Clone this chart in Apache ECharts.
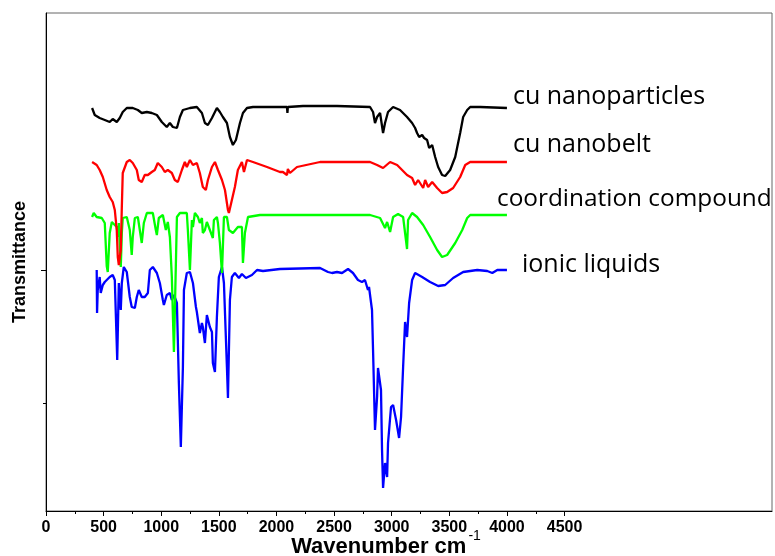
<!DOCTYPE html>
<html>
<head>
<meta charset="utf-8">
<script src="https://cdn.jsdelivr.net/npm/echarts@6/dist/echarts.min.js"></script>
<style>
html,body{margin:0;padding:0;background:#fff;}
#chart{width:775px;height:556px;}
</style>
</head>
<body>
<div id="chart"></div>
<script>
// Series names (shown as end labels)
var seriesNames = ['cu nanoparticles', 'cu nanobelt', 'coordination compound', 'ionic liquids'];

// Tick values
var majorTicks = [0, 500, 1000, 1500, 2000, 2500, 3000, 3500, 4000, 4500];
var minorTicks = [250, 750, 1250, 1750, 2250, 2750, 3250, 3750, 4250];
var yMajorTicks = [241];
var yMinorTicks = [108];

// Spectra: [wavenumber (cm-1), transmittance (arbitrary units, offset)]
var cuNanoparticles = [[400,403],[423,396],[466,393],[510,391],[553,389],[579,392],[614,389],[640,393],[666,399],[701,403],[753,403],[797,401],[831,398],[875,399],[918,398],[962,396],[1005,389],[1048,384],[1075,388],[1101,384],[1136,383],[1162,394],[1188,401],[1249,403],[1309,404],[1353,398],[1379,388],[1405,386],[1440,393],[1483,403],[1509,399],[1535,394],[1570,388],[1596,374],[1622,366],[1648,371],[1683,388],[1709,398],[1744,403],[1796,404],[2030,404],[2091,404],[2095,398],[2099,404],[2230,405],[2525,405],[2812,404],[2838,399],[2855,388],[2873,394],[2899,398],[2925,378],[2942,388],[2968,399],[3012,404],[3072,401],[3133,394],[3177,388],[3203,383],[3220,378],[3238,374],[3264,376],[3281,373],[3307,371],[3325,363],[3351,366],[3377,354],[3403,344],[3437,336],[3464,335],[3507,341],[3551,354],[3594,378],[3620,394],[3655,401],[3681,404],[3768,404],[4000,403]];

var cuNanobelt = [[400,349],[440,346],[466,341],[493,334],[527,321],[553,314],[579,309],[597,301],[614,281],[623,254],[632,246],[649,261],[658,304],[666,338],[701,349],[727,351],[753,348],[788,341],[805,331],[831,329],[857,336],[884,336],[918,339],[944,341],[970,348],[1005,344],[1031,339],[1057,341],[1092,338],[1118,331],[1144,329],[1179,341],[1205,349],[1222,344],[1249,351],[1275,346],[1309,348],[1335,338],[1361,324],[1387,321],[1405,331],[1440,344],[1466,349],[1492,341],[1527,331],[1553,321],[1579,301],[1587,298],[1613,311],[1639,324],[1665,341],[1700,349],[1718,339],[1744,351],[1796,349],[1918,344],[2030,339],[2056,339],[2091,336],[2099,342],[2117,338],[2178,344],[2378,349],[2812,349],[2873,346],[2925,343],[2986,349],[3047,346],[3133,336],[3177,333],[3203,326],[3229,331],[3273,323],[3290,331],[3316,324],[3351,329],[3394,323],[3437,318],[3481,319],[3533,323],[3594,334],[3638,346],[3681,349],[4000,349]];

var coordinationCompound = [[400,294],[414,298],[440,294],[484,293],[510,288],[527,245],[536,239],[553,278],[571,289],[588,291],[614,284],[623,274],[632,288],[649,244],[658,278],[666,293],[701,294],[727,281],[744,256],[753,274],[771,293],[797,294],[814,281],[831,268],[849,288],[875,298],[927,298],[953,281],[962,276],[979,293],[1014,296],[1040,281],[1057,289],[1075,274],[1092,234],[1110,159],[1118,200],[1136,294],[1162,298],[1222,298],[1231,281],[1249,241],[1266,291],[1275,284],[1292,298],[1318,294],[1335,288],[1353,293],[1361,278],[1379,281],[1396,289],[1422,281],[1448,273],[1457,291],[1483,294],[1492,288],[1509,268],[1527,238],[1544,294],[1570,294],[1587,281],[1622,278],[1665,284],[1700,284],[1709,248],[1726,278],[1753,294],[1857,296],[2030,296],[2812,296],[2899,293],[2942,283],[2960,289],[2986,279],[3012,294],[3055,297],[3099,294],[3116,278],[3133,262],[3142,291],[3177,298],[3220,294],[3273,286],[3333,274],[3394,261],[3437,254],[3481,256],[3551,268],[3612,281],[3655,293],[3681,296],[4000,296]];

var ionicLiquids = [[440,241],[443,198],[449,221],[466,234],[475,218],[493,226],[510,229],[553,234],[579,236],[597,231],[618,151],[632,228],[649,201],[658,228],[675,244],[701,239],[710,238],[727,214],[744,204],[771,203],[788,214],[805,221],[831,214],[857,214],[884,218],[901,241],[927,244],[962,238],[988,228],[1014,211],[1023,206],[1048,216],[1075,218],[1092,211],[1110,216],[1127,214],[1136,208],[1153,128],[1170,64],[1188,144],[1197,221],[1222,238],[1249,239],[1275,228],[1301,204],[1309,199],[1335,178],[1353,188],[1361,184],[1379,168],[1396,196],[1405,198],[1422,184],[1440,179],[1448,148],[1466,139],[1483,194],[1500,234],[1527,244],[1544,228],[1570,144],[1579,113],[1596,211],[1613,234],[1639,238],[1674,233],[1700,237],[1735,233],[1787,236],[1831,241],[1883,240],[2030,242],[2378,243],[2447,239],[2482,238],[2525,239],[2569,238],[2621,242],[2664,238],[2681,239],[2707,231],[2742,229],[2768,231],[2794,221],[2803,224],[2829,201],[2838,161],[2855,81],[2873,114],[2881,143],[2907,121],[2916,61],[2925,23],[2942,48],[2960,34],[2968,68],[2994,104],[3012,106],[3038,91],[3064,73],[3081,94],[3099,144],[3116,189],[3133,174],[3151,208],[3177,231],[3203,238],[3264,234],[3333,229],[3403,225],[3464,226],[3533,233],[3620,239],[3742,241],[3829,240],[3873,238],[3916,241],[4000,241]];

var seriesData = [cuNanoparticles, cuNanobelt, coordinationCompound, ionicLiquids];
var seriesColors = ['#000000', '#ff0000', '#00ff00', '#0000ff'];
var labelOffsets = [[6, -11], [6, -17], [-10, -16], [15, -5]];
var labelSizes = [25, 25, 24.4, 25];

var chart = echarts.init(document.getElementById('chart'), null, {renderer: 'canvas'});

var axisFont = {fontFamily: 'Liberation Sans, Arial, sans-serif', fontWeight: 'bold', fontSize: 16, color: '#000'};

var series = seriesNames.map(function (name, i) {
  return {
    name: name,
    type: 'line',
    xAxisIndex: 0,
    yAxisIndex: 0,
    data: seriesData[i],
    showSymbol: false,
    symbol: 'none',
    smooth: false,
    lineStyle: {color: seriesColors[i], width: 2.3},
    itemStyle: {color: seriesColors[i]},
    z: 10 - i,
    endLabel: {
      show: true,
      formatter: name,
      distance: 0,
      offset: labelOffsets[i],
      color: '#000',
      fontFamily: 'Open Sans, sans-serif',
      fontSize: labelSizes[i],
      align: 'left',
      verticalAlign: 'middle'
    }
  };
});

chart.setOption({
  animation: false,
  backgroundColor: '#fff',
  grid: {left: 46, top: 13, right: 3, bottom: 45, show: true, borderColor: '#666', borderWidth: 1,
         containLabel: false, outerBoundsMode: 'none'},
  xAxis: [{
    type: 'value', min: 0, max: 6300, interval: 250,
    position: 'bottom',
    axisLine: {show: true, onZero: false, lineStyle: {color: '#000', width: 1}},
    axisTick: {show: true, length: 5, customValues: majorTicks, lineStyle: {color: '#000'}},
    axisLabel: Object.assign({show: true, margin: 9, customValues: majorTicks,
      formatter: function (v) { return String(v); }}, axisFont),
    splitLine: {show: false},
    name: '{t|Wavenumber cm}{s|-1}',
    nameLocation: 'middle',
    nameGap: 18,
    nameMoveOverlap: false,
    nameTextStyle: {
      padding: [0, 46, 0, 0],
      rich: {
        t: {fontFamily: 'Liberation Sans, Arial, sans-serif', fontWeight: 'bold', fontSize: 22, color: '#000', verticalAlign: 'bottom', lineHeight: 22},
        s: {fontFamily: 'Liberation Sans, Arial, sans-serif', fontSize: 14, color: '#000', verticalAlign: 'top', padding: [0, 0, 15, 2]}
      }
    }
  }, {
    type: 'value', min: 0, max: 6300, interval: 250,
    position: 'bottom',
    axisLine: {show: false, onZero: false},
    axisTick: {show: true, length: 3, customValues: minorTicks, lineStyle: {color: '#000'}},
    axisLabel: {show: false},
    splitLine: {show: false}
  }],
  yAxis: [{
    type: 'value', min: 0, max: 498,
    position: 'left',
    axisLine: {show: true, onZero: false, lineStyle: {color: '#000', width: 1}},
    axisTick: {show: true, length: 5, customValues: yMajorTicks, lineStyle: {color: '#000'}},
    axisLabel: {show: false},
    splitLine: {show: false},
    name: 'Transmittance',
    nameLocation: 'middle',
    nameGap: 17,
    nameMoveOverlap: false,
    nameTextStyle: {fontFamily: 'Liberation Sans, Arial, sans-serif', fontWeight: 'bold', fontSize: 18, color: '#000'}
  }, {
    type: 'value', min: 0, max: 498,
    position: 'left',
    axisLine: {show: false, onZero: false},
    axisTick: {show: true, length: 3, customValues: yMinorTicks, lineStyle: {color: '#000'}},
    axisLabel: {show: false},
    splitLine: {show: false}
  }],
  series: series
});
</script>
</body>
</html>
